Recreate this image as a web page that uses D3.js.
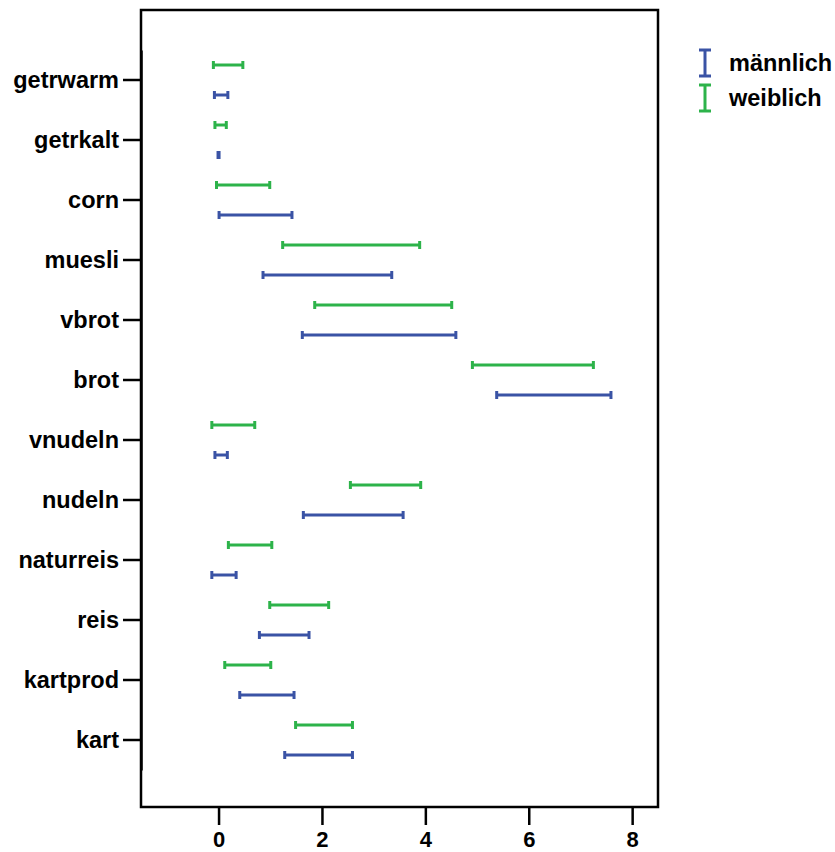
<!DOCTYPE html>
<html>
<head>
<meta charset="utf-8">
<script src="https://cdn.jsdelivr.net/npm/d3@7"></script>
<style>
  body { margin: 0; background: #fff; }
  text { font-family: "Liberation Sans", Arial, sans-serif; font-weight: bold; }
</style>
</head>
<body>
<div id="chart"></div>
<script>
// categories, top to bottom
var categories = ["getrwarm", "getrkalt", "corn", "muesli", "vbrot", "brot",
                  "vnudeln", "nudeln", "naturreis", "reis", "kartprod", "kart"];
// error bar intervals (lower / upper) per group
var maleLow   = [-0.08, -0.01, 0.01, 0.86, 1.62, 5.38, -0.07, 1.64, -0.13, 0.79, 0.41, 1.28];
var maleHigh  = [ 0.18,  0.01, 1.42, 3.35, 4.59, 7.59,  0.17, 3.57,  0.34, 1.75, 1.46, 2.59];
var femaleLow = [-0.10, -0.07, -0.04, 1.24, 1.86, 4.91, -0.13, 2.55, 0.19, 0.99, 0.12, 1.49];
var femaleHigh= [ 0.47,  0.15, 0.99, 3.89, 4.51, 7.25,  0.70, 3.91,  1.03, 2.13, 1.01, 2.59];
var xTicks = [0, 2, 4, 6, 8];
var groups = ["männlich", "weiblich"];
var colors = ["#3a53a5", "#2db34a"];

var width = 835, height = 852;
var frame = {left: 141, right: 658, top: 10, bottom: 807};

var svg = d3.select("#chart").append("svg")
    .attr("width", width)
    .attr("height", height);

var x = d3.scaleLinear().domain([-1.5, 8.5]).range([frame.left, frame.right]);
var y = d3.scaleBand().domain(categories).range([50, 770]);
var offset = 15, cap = 4;

// frame
svg.append("rect")
    .attr("x", frame.left)
    .attr("y", frame.top)
    .attr("width", frame.right - frame.left)
    .attr("height", frame.bottom - frame.top)
    .attr("fill", "none")
    .attr("stroke", "#000")
    .attr("stroke-width", 2.5);

// y axis
var yAxis = svg.append("g")
    .attr("transform", "translate(" + frame.left + ",0)")
    .call(d3.axisLeft(y).tickSize(18).tickPadding(4).tickSizeOuter(0));
yAxis.select(".domain").attr("stroke-width", 2.5);
yAxis.selectAll(".tick line").attr("stroke-width", 2.5);
yAxis.selectAll(".tick text")
    .attr("font-size", 23.5)
    .attr("font-family", null)
    .attr("fill", "#000");

// x axis
var xAxis = svg.append("g")
    .attr("transform", "translate(0," + frame.bottom + ")")
    .call(d3.axisBottom(x).tickValues(xTicks).tickSize(18).tickPadding(6).tickSizeOuter(0));
xAxis.select(".domain").remove();
xAxis.selectAll(".tick line").attr("stroke-width", 2.5);
xAxis.selectAll(".tick text")
    .attr("font-size", 22)
    .attr("font-family", null)
    .attr("fill", "#000");

// error bars
var series = [
    {name: groups[0], low: maleLow, high: maleHigh, color: colors[0], dy: offset},
    {name: groups[1], low: femaleLow, high: femaleHigh, color: colors[1], dy: -offset}
];

series.forEach(function (s) {
    var g = svg.append("g");
    categories.forEach(function (c, i) {
        var cy = y(c) + y.bandwidth() / 2 + s.dy;
        g.append("line")
            .attr("x1", x(s.low[i])).attr("x2", x(s.high[i]))
            .attr("y1", cy).attr("y2", cy)
            .attr("stroke", s.color)
            .attr("stroke-width", 3);
        [s.low[i], s.high[i]].forEach(function (v) {
            g.append("line")
                .attr("x1", x(v)).attr("x2", x(v))
                .attr("y1", cy - cap).attr("y2", cy + cap)
                .attr("stroke", s.color)
                .attr("stroke-width", 3);
        });
    });
});

// legend
var legend = svg.append("g").attr("transform", "translate(705,50)");
series.forEach(function (s, i) {
    var row = legend.append("g").attr("transform", "translate(0," + (i * 35) + ")");
    row.append("line").attr("x1", 0).attr("x2", 0).attr("y1", 0).attr("y2", 26)
        .attr("stroke", s.color).attr("stroke-width", 3);
    row.append("line").attr("x1", -6).attr("x2", 6).attr("y1", 0).attr("y2", 0)
        .attr("stroke", s.color).attr("stroke-width", 3);
    row.append("line").attr("x1", -6).attr("x2", 6).attr("y1", 26).attr("y2", 26)
        .attr("stroke", s.color).attr("stroke-width", 3);
    row.append("text")
        .attr("x", 24)
        .attr("y", 13)
        .attr("dy", "0.35em")
        .attr("font-size", 23.5)
        .text(s.name);
});
</script>
</body>
</html>
